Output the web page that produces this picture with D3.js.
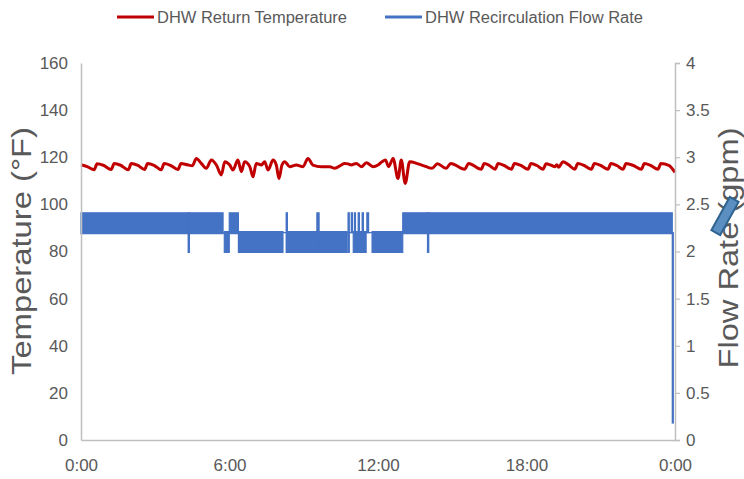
<!DOCTYPE html>
<html>
<head>
<meta charset="utf-8">
<script src="https://cdn.jsdelivr.net/npm/d3@7"></script>
<style>
  body { margin: 0; background: #fff; }
  text { font-family: "Liberation Sans", Arial, sans-serif; fill: #595959; }
</style>
</head>
<body>
<script>
// x positions are hours of the day
var xTicks = [0, 6, 12, 18, 24];
var xTickLabels = ["0:00", "6:00", "12:00", "18:00", "0:00"];
var leftTicks = [0, 20, 40, 60, 80, 100, 120, 140, 160];
var rightTicks = [0, 0.5, 1, 1.5, 2, 2.5, 3, 3.5, 4];

// DHW return temperature (F)
var tempHours = [0, 0.25, 0.53, 0.65, 0.9, 1.22, 1.34, 1.6, 1.91, 2.03, 2.3, 2.57, 2.69, 2.95, 3.24, 3.36, 3.62, 3.92, 4.04, 4.3, 4.5,
  4.66, 4.86, 5.06, 5.27, 5.47, 5.67, 5.81, 6.01, 6.14, 6.34, 6.48, 6.61, 6.82, 6.95, 7.08, 7.29, 7.42, 7.56, 7.76, 7.89, 8.0, 8.12,
  8.23, 8.43, 8.7, 8.97, 9.17, 9.37, 9.71, 10.05, 10.25, 10.52, 10.65, 10.79, 10.92, 11.12, 11.33, 11.53, 11.8, 12.0, 12.16, 12.3,
  12.43, 12.61, 12.81, 12.94, 13.1, 13.28, 13.62, 13.95, 14.18, 14.4, 14.76, 14.94, 15.5, 15.66, 16.17,
  16.29, 16.5, 16.73, 16.85, 17.1, 17.39, 17.51, 17.78, 18.06, 18.18, 18.42, 18.67, 18.79, 19.0, 19.15, 19.22, 19.3, 19.47, 19.7,
  19.95, 20.07, 20.33, 20.62, 20.74, 21.0, 21.29, 21.41, 21.65, 21.9, 22.02, 22.32, 22.64, 22.76, 23.02, 23.31, 23.43, 23.75, 24.0];
var tempValues = [116.8, 116.0, 114.7, 117.2, 116.6, 114.8, 117.3, 116.6, 114.7, 117.3, 116.5, 114.8, 117.3, 116.6, 114.7, 117.3, 116.5, 114.8, 117.4, 116.8, 116.4,
  119.5, 117.4, 115.3, 118.8, 116.7, 112.5, 118.1, 116.7, 114.6, 118.8, 113.9, 118.1, 116.0, 111.7, 117.4, 116.7, 118.1, 114.6, 118.8, 116.7, 111.0, 116.7,
  118.1, 116.0, 116.7, 116.0, 119.5, 116.7, 116.0, 116.0, 115.3, 116.7, 117.4, 117.2, 116.7, 117.4, 116.0, 117.7, 116.0, 116.7, 118.1, 118.8,
  116.0, 119.5, 111.0, 118.8, 108.9, 118.1, 117.2, 116.0, 115.3, 117.2, 115.3, 117.4, 114.9, 117.4, 114.9,
  117.3, 116.5, 114.9, 117.3, 116.5, 114.9, 117.3, 116.5, 114.9, 117.3, 116.5, 114.9, 117.2, 116.6, 116.0, 116.8, 115.8, 118.1, 116.8,
  114.9, 117.3, 116.5, 114.9, 117.3, 116.5, 114.9, 117.3, 116.5, 114.9, 117.3, 116.5, 114.9, 117.3, 116.5, 114.9, 117.3, 116.6, 113.6];

// DHW recirculation flow (gpm): [start hour, end hour, low, high] of the dense band
var flowSegments = [
  [0.00, 4.33, 2.19, 2.41], [4.33, 4.38, 1.99, 2.41], [4.38, 5.74, 2.19, 2.41],
  [5.74, 5.79, 2.20, 2.20], [5.79, 5.99, 1.99, 2.21], [5.99, 6.36, 2.19, 2.41],
  [6.36, 8.16, 1.99, 2.21], [8.16, 8.29, 2.20, 2.20], [8.29, 8.34, 1.99, 2.41],
  [8.34, 9.53, 1.99, 2.21], [9.53, 9.62, 1.99, 2.41], [9.62, 10.75, 1.99, 2.21],
  [10.75, 11.00, 2.20, 2.20], [10.79, 10.84, 1.99, 2.41], [10.92, 10.97, 2.20, 2.41],
  [11.00, 11.45, 1.99, 2.21], [11.05, 11.09, 2.20, 2.41], [11.20, 11.25, 1.99, 2.41],
  [11.36, 11.41, 1.99, 2.41], [11.45, 11.76, 2.20, 2.20], [11.47, 11.52, 1.99, 2.21],
  [11.55, 11.62, 2.20, 2.41], [11.76, 13.00, 1.99, 2.21], [13.00, 23.89, 2.19, 2.41],
  [14.00, 14.05, 1.99, 2.41], [23.89, 23.93, 0.18, 2.20]
];

var seriesNames = ["DHW Return Temperature", "DHW Recirculation Flow Rate"];

var width = 744, height = 479;
var margin = {top: 63, right: 69, bottom: 39, left: 81};

var svg = d3.select("body").append("svg")
    .attr("width", width)
    .attr("height", height);

var x = d3.scaleLinear().domain([0, 24]).range([margin.left, width - margin.right]);
var yL = d3.scaleLinear().domain([0, 160]).range([height - margin.bottom, margin.top]);
var yR = d3.scaleLinear().domain([0, 4]).range([height - margin.bottom, margin.top]);

// flow band
var band = d3.area()
    .x(function(d) { return x(d[0]); })
    .y0(function(d) { return yR(d[1]); })
    .y1(function(d) { return yR(d[2]); });

svg.append("g").selectAll("path")
    .data(flowSegments)
    .enter().append("path")
    .attr("d", function(s) { return band([[s[0], s[2], s[3]], [s[1], s[2], s[3]]]); })
    .attr("fill", "#4472c4")
    .attr("stroke", "#4472c4")
    .attr("stroke-width", 1.2);

// temperature line
var line = d3.line()
    .x(function(d, i) { return x(tempHours[i]); })
    .y(function(d) { return yL(d); })
    .curve(d3.curveMonotoneX);

svg.append("path")
    .attr("d", line(tempValues))
    .attr("fill", "none")
    .attr("stroke", "#c00000")
    .attr("stroke-width", 3)
    .attr("stroke-linejoin", "round");

// axes
var axisColor = "#bfbfbf";

var gx = svg.append("g")
    .attr("transform", "translate(0," + (height - margin.bottom) + ")")
    .call(d3.axisBottom(x).tickValues(xTicks).tickSize(0).tickPadding(19)
        .tickFormat(function(d, i) { return xTickLabels[i]; }));

var gl = svg.append("g")
    .attr("transform", "translate(" + margin.left + ",0)")
    .call(d3.axisLeft(yL).tickValues(leftTicks).tickSize(0).tickPadding(13));

var gr = svg.append("g")
    .attr("transform", "translate(" + (width - margin.right) + ",0)")
    .call(d3.axisRight(yR).tickValues(rightTicks).tickSize(5).tickPadding(6)
        .tickFormat(d3.format("~g")));

[gx, gl, gr].forEach(function(g) {
    g.select(".domain").attr("stroke", axisColor).attr("stroke-width", 1.5);
    g.selectAll(".tick line").attr("stroke", axisColor).attr("stroke-width", 1.2);
    g.selectAll(".tick text")
        .style("font-family", "'Liberation Sans', Arial, sans-serif")
        .style("font-size", "17px")
        .attr("fill", "#595959");
});

// axis titles
svg.append("text")
    .attr("transform", "translate(31,251) rotate(-90)")
    .attr("text-anchor", "middle")
    .attr("textLength", 248)
    .attr("lengthAdjust", "spacingAndGlyphs")
    .style("font-size", "28px")
    .text("Temperature (°F)");

svg.append("text")
    .attr("transform", "translate(738,248) rotate(-90)")
    .attr("text-anchor", "middle")
    .attr("textLength", 241)
    .attr("lengthAdjust", "spacingAndGlyphs")
    .style("font-size", "27px")
    .text("Flow Rate (gpm)");

// the stray marker over the right title
svg.append("rect")
    .attr("transform", "translate(725,216) rotate(-61)")
    .attr("x", -19).attr("y", -5)
    .attr("width", 38).attr("height", 10)
    .attr("fill", "#5b8fc2")
    .attr("stroke", "#2f6390")
    .attr("stroke-width", 2);

// legend
var legendX = [117, 385];
var legendLen = [190, 218];
var legendColor = ["#c00000", "#4472c4"];

var lg = svg.selectAll(".legend")
    .data(seriesNames)
    .enter().append("g")
    .attr("class", "legend")
    .attr("transform", function(d, i) { return "translate(" + legendX[i] + ",17)"; });

lg.append("line")
    .attr("x1", 0).attr("x2", 37)
    .attr("stroke", function(d, i) { return legendColor[i]; })
    .attr("stroke-width", 3);

lg.append("text")
    .attr("x", 40)
    .attr("y", 6)
    .attr("textLength", function(d, i) { return legendLen[i]; })
    .attr("lengthAdjust", "spacingAndGlyphs")
    .style("font-size", "16px")
    .text(function(d) { return d; });
</script>
</body>
</html>
